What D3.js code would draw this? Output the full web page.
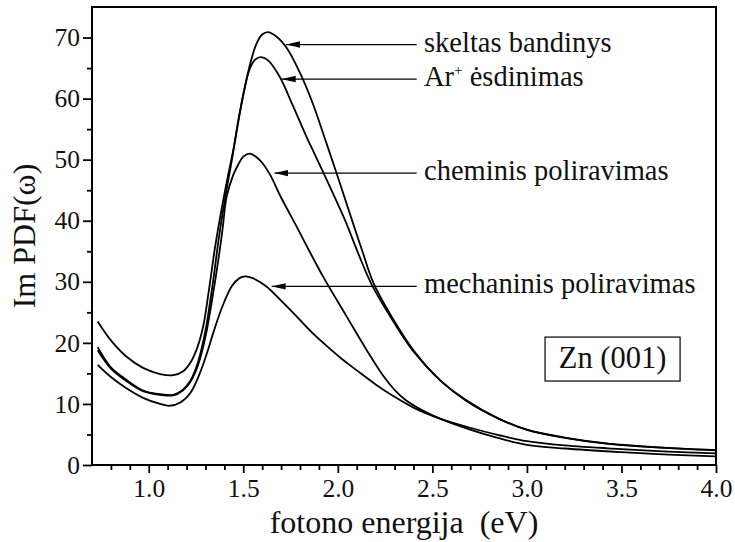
<!DOCTYPE html>
<html>
<head>
<meta charset="utf-8">
<script src="https://cdn.jsdelivr.net/npm/d3@7"></script>
<style>
  html, body { margin: 0; padding: 0; background: #fff; }
  svg text { font-family: "Liberation Serif", "Times New Roman", serif; fill: #111; white-space: pre; }
</style>
</head>
<body>
<svg id="chart" width="735" height="542"></svg>
<script>
// Photon energy (eV) and Im PDF(ω) for each surface preparation
const skeltasE = [0.73, 0.80, 0.88, 0.97, 1.06, 1.13, 1.18, 1.225, 1.26, 1.29, 1.32, 1.35, 1.38, 1.42, 1.45, 1.49, 1.535, 1.57, 1.60, 1.63, 1.67, 1.73, 1.80, 1.87, 1.93, 1.99, 2.075, 2.13, 2.19, 2.30, 2.40, 2.54, 2.68, 2.85, 3.00, 3.20, 3.42, 3.70, 4.00];
const skeltasV = [23.5, 20.4, 17.8, 15.9, 14.9, 14.7, 15.3, 17.0, 19.5, 23.0, 29.0, 35.5, 41.0, 47.5, 52.0, 59.0, 65.5, 69.0, 70.5, 70.9, 70.3, 68.3, 64.2, 59.0, 53.6, 48.1, 40.1, 35.0, 29.7, 23.5, 18.8, 13.9, 10.6, 7.6, 5.8, 4.5, 3.55, 2.9, 2.4];

const arE = [0.73, 0.80, 0.88, 0.97, 1.06, 1.13, 1.18, 1.22, 1.26, 1.30, 1.34, 1.37, 1.40, 1.44, 1.48, 1.53, 1.56, 1.59, 1.63, 1.694, 1.76, 1.835, 1.87, 1.959, 2.038, 2.11, 2.18, 2.30, 2.40, 2.54, 2.68, 2.85, 3.00, 3.20, 3.42, 3.70, 4.00];
const arV = [19.3, 16.0, 14.0, 12.2, 11.6, 11.5, 12.3, 13.8, 16.8, 22.0, 30.0, 37.0, 43.0, 50.0, 57.5, 64.5, 66.3, 66.8, 66.3, 63.5, 59.0, 53.7, 51.4, 45.5, 40.1, 34.5, 29.5, 23.2, 18.6, 13.9, 10.5, 7.6, 5.75, 4.45, 3.5, 2.85, 2.45];

const cheminisE = [0.73, 0.80, 0.88, 0.97, 1.06, 1.13, 1.18, 1.22, 1.26, 1.30, 1.34, 1.37, 1.39, 1.412, 1.447, 1.475, 1.50, 1.535, 1.57, 1.60, 1.641, 1.70, 1.783, 1.85, 1.923, 2.047, 2.153, 2.24, 2.30, 2.36, 2.45, 2.54, 2.70, 2.85, 3.00, 3.20, 3.50, 3.75, 4.00];
const cheminisV = [18.8, 15.8, 13.8, 12.1, 11.5, 11.4, 12.2, 13.6, 16.3, 21.0, 28.0, 34.0, 38.5, 43.9, 47.5, 49.3, 50.5, 51.0, 50.4, 49.5, 47.6, 43.8, 39.0, 35.0, 30.8, 24.3, 18.8, 14.6, 12.3, 10.6, 8.9, 7.6, 5.8, 4.4, 3.3, 2.7, 2.1, 1.7, 1.4];

const mechaninisE = [0.73, 0.80, 0.88, 0.97, 1.06, 1.11, 1.165, 1.22, 1.27, 1.31, 1.345, 1.39, 1.44, 1.48, 1.51, 1.55, 1.624, 1.70, 1.783, 1.86, 1.941, 2.02, 2.10, 2.20, 2.293, 2.40, 2.54, 2.70, 2.85, 3.00, 3.20, 3.50, 3.75, 4.00];
const mechaninisV = [16.4, 14.4, 12.6, 11.0, 10.0, 9.7, 10.2, 11.8, 15.0, 18.5, 22.0, 26.0, 29.3, 30.6, 30.9, 30.6, 29.2, 26.9, 24.3, 21.8, 19.5, 17.4, 15.5, 13.2, 11.3, 9.4, 7.6, 6.1, 4.9, 3.9, 3.2, 2.6, 2.2, 1.9];

// Tick values
const xMajorTicks = [1.0, 1.5, 2.0, 2.5, 3.0, 3.5, 4.0];
const xMinorTicks = [0.8, 0.9, 1.1, 1.2, 1.3, 1.4, 1.6, 1.7, 1.8, 1.9, 2.1, 2.2, 2.3, 2.4, 2.6, 2.7, 2.8, 2.9, 3.1, 3.2, 3.3, 3.4, 3.6, 3.7, 3.8, 3.9];
const yMajorTicks = [0, 10, 20, 30, 40, 50, 60, 70];
const yMinorTicks = [5, 15, 25, 35, 45, 55, 65];

// Arrow annotations: label, arrow tip (energy, value), label start energy
const labelNames = ["skeltas bandinys", "Ar+ ėsdinimas", "cheminis poliravimas", "mechaninis poliravimas"];
const arrowTipE = [1.726, 1.703, 1.665, 1.650];
const arrowTipV = [68.85, 63.2, 47.8, 29.25];
const arrowTailE = 2.417;
const labelE = 2.456;

const sampleName = "Zn (001)";
const sampleBoxE = [3.096, 3.81];
const sampleBoxV = [20.95, 13.75];

const series = [
  { e: skeltasE, v: skeltasV },
  { e: arE, v: arV },
  { e: cheminisE, v: cheminisV },
  { e: mechaninisE, v: mechaninisV }
];

const margin = { left: 92, right: 19, top: 7, bottom: 77 };
const W = 735, H = 542;
const svg = d3.select("#chart");

const x = d3.scaleLinear().domain([0.7, 4.0]).range([margin.left, W - margin.right]);
const y = d3.scaleLinear().domain([0, 75]).range([H - margin.bottom, margin.top]);

// curves
const line = d3.line()
  .x(d => x(d[0]))
  .y(d => y(d[1]))
  .curve(d3.curveCatmullRom.alpha(0.5));

const curves = svg.append("g").attr("fill", "none").attr("stroke", "#000").attr("stroke-width", 1.8).attr("stroke-linejoin", "round");
series.forEach(s => {
  curves.append("path").attr("d", line(s.e.map((e, i) => [e, s.v[i]])));
});

// axes
const gx = svg.append("g").attr("transform", `translate(0,${y(0)})`);
gx.call(d3.axisBottom(x).tickValues(xMajorTicks).tickSize(8).tickPadding(6).tickFormat(d3.format(".1f")));
const gxm = svg.append("g").attr("transform", `translate(0,${y(0)})`);
gxm.call(d3.axisBottom(x).tickValues(xMinorTicks).tickSize(5).tickFormat(""));

const gy = svg.append("g").attr("transform", `translate(${x(0.7)},0)`);
gy.call(d3.axisLeft(y).tickValues(yMajorTicks).tickSize(9).tickPadding(3).tickFormat(d3.format("d")));
const gym = svg.append("g").attr("transform", `translate(${x(0.7)},0)`);
gym.call(d3.axisLeft(y).tickValues(yMinorTicks).tickSize(5).tickFormat(""));

[gx, gxm, gy, gym].forEach(g => {
  g.select(".domain").remove();
  g.selectAll(".tick line").attr("stroke", "#000").attr("stroke-width", 1.8);
});
gx.selectAll(".tick text").attr("font-size", 25.5).attr("fill", "#111");
gy.selectAll(".tick text").attr("font-size", 25.5).attr("fill", "#111");

// plot frame
svg.append("rect")
  .attr("x", x(0.7)).attr("y", y(75))
  .attr("width", x(4.0) - x(0.7)).attr("height", y(0) - y(75))
  .attr("fill", "none").attr("stroke", "#000").attr("stroke-width", 2);

// axis titles
svg.append("text")
  .attr("x", (x(0.7) + x(4.0)) / 2).attr("y", 533)
  .attr("text-anchor", "middle").attr("font-size", 32)
  .text("fotono energija  (eV)");

svg.append("text")
  .attr("transform", `translate(35,${(y(0) + y(75)) / 2}) rotate(-90)`)
  .attr("text-anchor", "middle").attr("font-size", 32)
  .text("Im PDF(ω)");

// arrow annotations
const defs = svg.append("defs");
defs.append("marker")
  .attr("id", "head").attr("viewBox", "0 0 14 8")
  .attr("refX", 0).attr("refY", 4)
  .attr("markerWidth", 14).attr("markerHeight", 8)
  .attr("markerUnits", "userSpaceOnUse").attr("orient", "auto")
  .append("path").attr("d", "M0,4 L14,0.8 L14,7.2 Z").attr("fill", "#000");

const ann = svg.append("g");
labelNames.forEach((name, i) => {
  const yy = y(arrowTipV[i]);
  ann.append("line")
    .attr("x1", x(arrowTipE[i])).attr("y1", yy)
    .attr("x2", x(arrowTailE)).attr("y2", yy)
    .attr("stroke", "#000").attr("stroke-width", 1.2)
    .attr("marker-start", "url(#head)");
  const t = ann.append("text")
    .attr("x", x(labelE)).attr("y", yy + 7)
    .attr("font-size", 28.5);
  if (name.startsWith("Ar+")) {
    t.append("tspan").text("Ar");
    t.append("tspan").attr("font-size", 15).attr("dy", -11).text("+");
    t.append("tspan").attr("dy", 11).text(" ėsdinimas");
  } else {
    t.text(name);
  }
});

// sample box
svg.append("rect")
  .attr("x", x(sampleBoxE[0])).attr("y", y(sampleBoxV[0]))
  .attr("width", x(sampleBoxE[1]) - x(sampleBoxE[0]))
  .attr("height", y(sampleBoxV[1]) - y(sampleBoxV[0]))
  .attr("fill", "#fff").attr("stroke", "#000").attr("stroke-width", 1.2);
svg.append("text")
  .attr("x", (x(sampleBoxE[0]) + x(sampleBoxE[1])) / 2)
  .attr("y", y(sampleBoxV[1]) - 13)
  .attr("text-anchor", "middle").attr("font-size", 30.5)
  .text(sampleName);
</script>
</body>
</html>
